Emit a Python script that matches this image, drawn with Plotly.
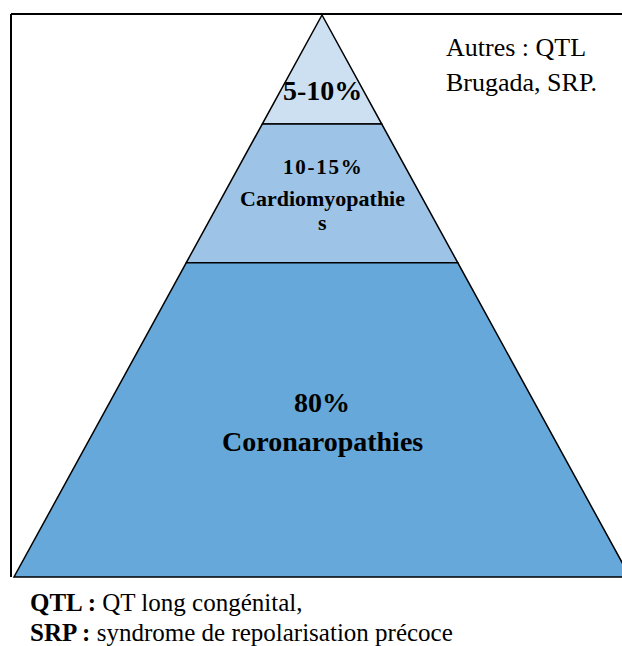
import plotly.graph_objects as go

# ---- data ----
layer_labels = ["5-10%", "10-15%<br>Cardiomyopathie<br>s", "80%<br>Coronaropathies"]
# boundaries of layers as fraction of pyramid height (0 = apex, 1 = base)
layer_bounds = [0.0, 0.194, 0.441, 1.0]
layer_colors = ["#CCE0F2", "#9DC3E6", "#65A8D9"]
side_note = ["Autres : QTL", "Brugada, SRP."]
footnotes = [("QTL :", " QT long congénital,"), ("SRP :", " syndrome de repolarisation précoce")]

W, H = 622, 646
APEX_X, APEX_Y, BASE_Y, HALF_BASE = 322, 15, 577, 308
px_w = 2 * HALF_BASE          # px per x-unit
px_h = BASE_Y - APEX_Y        # px per y-unit

fig = go.Figure()

for i, col in enumerate(layer_colors):
    t, b = layer_bounds[i], layer_bounds[i + 1]
    xs = [-0.5 * t, 0.5 * t, 0.5 * b, -0.5 * b, -0.5 * t]
    ys = [t, t, b, b, t]
    fig.add_trace(go.Scatter(x=xs, y=ys, mode="lines", fill="toself", fillcolor=col,
                             line=dict(color="black", width=1.5), hoverinfo="skip",
                             showlegend=False))

FONT = "Liberation Serif"
HAIR = "\u200A"

def label(ypx, text, size):
    return dict(x=0, y=(ypx - APEX_Y) / px_h, text=f"<b>{text}</b>", showarrow=False,
                font=dict(family=FONT, size=size, color="black"))

ann = [
    label(90, "5-10%", 28),
    label(167, HAIR.join("10-15%"), 21),
    label(198, "Cardiomyopathie", 22),
    label(222, "s", 22),
    label(402, "80%", 28),
    label(441, "Coronaropathies", 28),
]

for k, t in enumerate(side_note):
    ann.append(dict(xref="paper", yref="paper", x=444 / W, y=1 - (48 + 34 * k) / H, text=t,
                    showarrow=False, xanchor="left", yanchor="middle",
                    font=dict(family=FONT, size=26, color="black")))
for k, (b, r) in enumerate(footnotes):
    ann.append(dict(xref="paper", yref="paper", x=29 / W, y=1 - (602 + 30 * k) / H,
                    text=f"<b>{b}</b>{r}", showarrow=False, xanchor="left", yanchor="middle",
                    borderpad=0, font=dict(family=FONT, size=25, color="black")))

shapes = [
    dict(type="line", xref="paper", yref="paper", x0=11 / W, x1=1.0, y0=1 - 14 / H, y1=1 - 14 / H,
         line=dict(color="black", width=2)),
    dict(type="line", xref="paper", yref="paper", x0=11 / W, x1=11 / W, y0=1 - 14 / H, y1=1 - 577 / H,
         line=dict(color="black", width=2)),
]

fig.update_layout(
    width=W, height=H, margin=dict(l=0, r=0, t=0, b=0),
    paper_bgcolor="white", plot_bgcolor="white",
    xaxis=dict(range=[-APEX_X / px_w, (W - APEX_X) / px_w], visible=False, fixedrange=True),
    yaxis=dict(range=[(H - APEX_Y) / px_h, -APEX_Y / px_h], visible=False, fixedrange=True),
    annotations=ann, shapes=shapes,
)

fig.write_html("out.html", config={"displayModeBar": False},
               post_script="document.body.style.margin='0px';document.body.style.overflow='hidden';")
